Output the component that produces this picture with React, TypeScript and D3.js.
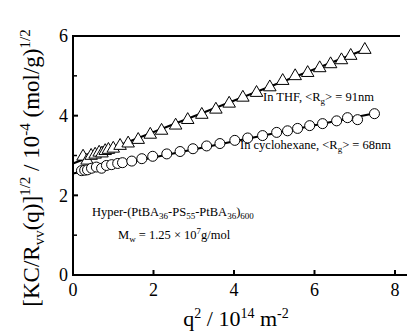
import React from "react";
import * as d3 from "d3";

const thfX = [0.25,0.35,0.45,0.55,0.65,0.72,0.8,0.88,1.0,1.17,1.37,1.62,1.92,2.2,2.55,2.85,3.2,3.55,3.88,4.22,4.56,4.89,5.21,5.52,5.83,6.13,6.4,6.67,6.9,7.25];
const thfY = [3.0,2.9,3.02,3.05,3.1,3.08,3.14,3.17,3.2,3.27,3.33,3.42,3.55,3.65,3.78,3.92,4.05,4.18,4.33,4.48,4.6,4.74,4.9,5.02,5.1,5.22,5.32,5.42,5.53,5.68];
const cycX = [0.21,0.29,0.36,0.46,0.58,0.71,0.83,0.96,1.11,1.23,1.46,1.71,1.98,2.33,2.66,2.98,3.32,3.65,4.02,4.34,4.71,5.06,5.33,5.58,5.88,6.2,6.55,6.82,7.07,7.49];
const cycY = [2.62,2.63,2.64,2.68,2.71,2.68,2.75,2.77,2.8,2.82,2.86,2.92,2.98,3.04,3.1,3.17,3.24,3.3,3.38,3.44,3.5,3.58,3.62,3.68,3.75,3.8,3.87,3.95,3.9,4.05];
const thfFitX = [0, 7.3];
const thfFitY = [2.8, 5.68];
const cycFitX = [0, 7.5];
const cycFitY = [2.55, 4.06];
const xTicks = [0, 2, 4, 6, 8];
const yTicks = [0, 2, 4, 6];
const yMinor = [1, 3, 5];

const W = 407, H = 333;
const L = 73, R = 397, T = 36, B = 275;

export default function App() {
  const x = d3.scaleLinear().domain([0, 8]).range([L, R - 2]);
  const y = d3.scaleLinear().domain([0, 6]).range([B, T]);
  const line = d3.line<[number, number]>().x(d => x(d[0])).y(d => y(d[1]));
  const tri = d3.symbol().type(d3.symbolTriangle).size(68)();
  const font = "'Liberation Serif', 'Times New Roman', serif";
  return (
    <svg width={W} height={H} style={{ position: "absolute", left: 0, top: 0, background: "#fff" }} fontFamily={font}>
      <rect width={W} height={H} fill="#fff" />
      <path d={line(thfFitX.map((v, i) => [v, thfFitY[i]]) as any) || ""} stroke="#000" strokeWidth={2} fill="none" />
      <path d={line(cycFitX.map((v, i) => [v, cycFitY[i]]) as any) || ""} stroke="#000" strokeWidth={2} fill="none" />
      {thfX.map((v, i) => (
        <path key={"t" + i} d={tri || ""} transform={`translate(${x(v)},${y(thfY[i]) + 1})`} fill="#fff" stroke="#000" strokeWidth={1} />
      ))}
      {cycX.map((v, i) => (
        <circle key={"c" + i} cx={x(v)} cy={y(cycY[i])} r={5} fill="#fff" stroke="#000" strokeWidth={1} />
      ))}
      <line x1={L} x2={L} y1={T - 1} y2={B} stroke="#000" strokeWidth={2} />
      <line x1={L - 1} x2={W} y1={B} y2={B} stroke="#000" strokeWidth={2} />
      <line x1={L - 1} x2={400} y1={T} y2={T} stroke="#000" strokeWidth={2} />
      {yTicks.map(t => (
        <g key={"yt" + t}>
          <line x1={L} x2={L + 5} y1={y(t)} y2={y(t)} stroke="#000" strokeWidth={2} />
          <text x={L - 5} y={y(t)} dy="0.35em" textAnchor="end" fontSize={18}>{t}</text>
        </g>
      ))}
      {yMinor.map(t => (
        <line key={"ym" + t} x1={L} x2={L + 4} y1={y(t)} y2={y(t)} stroke="#000" strokeWidth={1.5} />
      ))}
      {xTicks.map(t => (
        <g key={"xt" + t}>
          <line x1={x(t)} x2={x(t)} y1={B} y2={B - 5} stroke="#000" strokeWidth={2} />
          <text x={x(t)} y={B + 21} textAnchor="middle" fontSize={18}>{t}</text>
        </g>
      ))}
      <text x={263} y={101} fontSize={12.5}>
        In THF, &lt;R<tspan baselineShift="-30%" fontSize={9}>g</tspan>&gt; = 91nm
      </text>
      <text x={240} y={149} fontSize={12.5}>
        In  cyclohexane, &lt;R<tspan baselineShift="-30%" fontSize={9}>g</tspan>&gt; = 68nm
      </text>
      <text x={92} y={216} fontSize={12.5}>
        Hyper-(PtBA<tspan baselineShift="-30%" fontSize={9}>36</tspan>-PS<tspan baselineShift="-30%" fontSize={9}>55</tspan>-PtBA<tspan baselineShift="-30%" fontSize={9}>36</tspan>)<tspan baselineShift="-30%" fontSize={9}>600</tspan>
      </text>
      <text x={118} y={239} fontSize={12.5}>
        M<tspan baselineShift="-30%" fontSize={9}>w</tspan> = 1.25 × 10<tspan baselineShift="60%" fontSize={9}>7</tspan>g/mol
      </text>
      <text x={236} y={326} textAnchor="middle" fontSize={22}>
        q<tspan baselineShift="60%" fontSize={14}>2</tspan>  / 10<tspan baselineShift="60%" fontSize={14}>14</tspan> m<tspan baselineShift="60%" fontSize={14}>-2</tspan>
      </text>
      <text transform="translate(39,168) rotate(-90)" textAnchor="middle" fontSize={23}>
        [KC/R<tspan baselineShift="-30%" fontSize={15}>vv</tspan>(q)]<tspan baselineShift="60%" fontSize={15}>1/2</tspan> / 10<tspan baselineShift="60%" fontSize={15}>-4</tspan> (mol/g)<tspan baselineShift="60%" fontSize={15}>1/2</tspan>
      </text>
    </svg>
  );
}
